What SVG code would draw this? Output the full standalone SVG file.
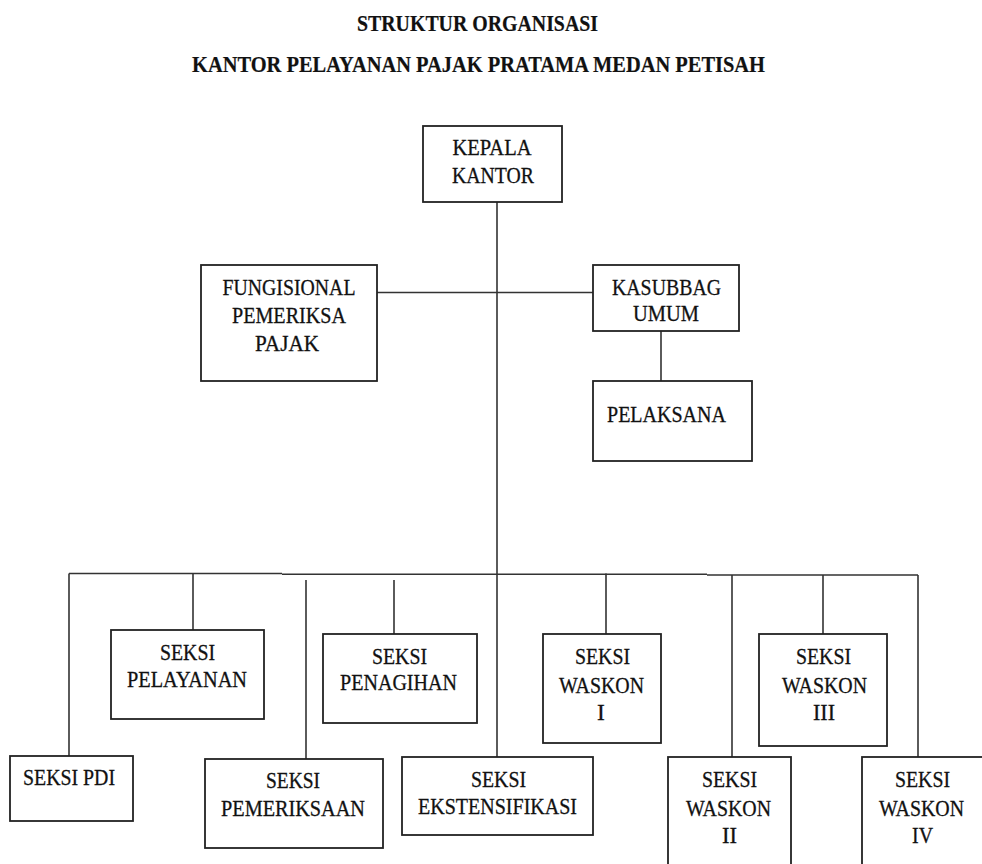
<svg xmlns="http://www.w3.org/2000/svg" width="982" height="864" viewBox="0 0 982 864">
<style>
.bg{fill:#ffffff}
.box{fill:#ffffff;stroke:#222222;stroke-width:1.8}
.ln{fill:none;stroke:#333333;stroke-width:1.6}
text{font-family:"Liberation Serif";font-size:23.5px;fill:#111111;stroke:#111111;stroke-width:0.3}
.t{font-weight:bold;font-size:23px;stroke-width:0.2}
.c{text-anchor:middle}
</style>
<rect class="bg" x="0" y="0" width="982" height="864"/>
<g id="title">
<text class="t c" x="477.5" y="30.5" textLength="241" lengthAdjust="spacingAndGlyphs">STRUKTUR ORGANISASI</text>
<text class="t c" x="478.5" y="72" textLength="573" lengthAdjust="spacingAndGlyphs">KANTOR PELAYANAN PAJAK PRATAMA MEDAN PETISAH</text>
</g>
<g id="connectors">
<line class="ln" x1="497" y1="202" x2="497" y2="757"/>
<line class="ln" x1="377" y1="292.5" x2="593" y2="292.5"/>
<line class="ln" x1="661" y1="331" x2="661" y2="381"/>
<path class="ln" d="M69 573.5 H282 M282 574.3 H707 M707 575 H918"/>
<line class="ln" x1="69" y1="573.5" x2="69" y2="756"/>
<line class="ln" x1="193" y1="573.5" x2="193" y2="630"/>
<line class="ln" x1="306" y1="580" x2="306" y2="759"/>
<line class="ln" x1="394" y1="580" x2="394" y2="634"/>
<line class="ln" x1="606" y1="573.5" x2="606" y2="634"/>
<line class="ln" x1="732" y1="575" x2="732" y2="757"/>
<line class="ln" x1="823" y1="575" x2="823" y2="634"/>
<line class="ln" x1="918" y1="575" x2="918" y2="757"/>
</g>
<g id="kepala">
<rect class="box" x="423" y="126" width="139" height="76"/>
<text class="c" x="492" y="155" textLength="79" lengthAdjust="spacingAndGlyphs">KEPALA</text>
<text class="c" x="493" y="183" textLength="82" lengthAdjust="spacingAndGlyphs">KANTOR</text>
</g>
<g id="fungsional">
<rect class="box" x="201" y="265" width="176" height="116"/>
<text class="c" x="289" y="295" textLength="133" lengthAdjust="spacingAndGlyphs">FUNGISIONAL</text>
<text class="c" x="289" y="323" textLength="114" lengthAdjust="spacingAndGlyphs">PEMERIKSA</text>
<text class="c" x="287" y="351" textLength="64" lengthAdjust="spacingAndGlyphs">PAJAK</text>
</g>
<g id="kasubbag">
<rect class="box" x="593" y="265" width="146" height="66"/>
<text class="c" x="666.5" y="295" textLength="109" lengthAdjust="spacingAndGlyphs">KASUBBAG</text>
<text class="c" x="666" y="321" textLength="66" lengthAdjust="spacingAndGlyphs">UMUM</text>
</g>
<g id="pelaksana">
<rect class="box" x="593" y="381" width="159" height="80"/>
<text x="607" y="422" textLength="119" lengthAdjust="spacingAndGlyphs">PELAKSANA</text>
</g>
<g id="seksi-pdi">
<rect class="box" x="10" y="756" width="123" height="65"/>
<text class="c" x="69" y="785" textLength="92" lengthAdjust="spacingAndGlyphs">SEKSI PDI</text>
</g>
<g id="seksi-pelayanan">
<rect class="box" x="111" y="630" width="153" height="89"/>
<text class="c" x="187.5" y="660" textLength="55" lengthAdjust="spacingAndGlyphs">SEKSI</text>
<text class="c" x="187" y="687" textLength="120" lengthAdjust="spacingAndGlyphs">PELAYANAN</text>
</g>
<g id="seksi-pemeriksaan">
<rect class="box" x="205" y="759" width="178" height="89"/>
<text class="c" x="293" y="788" textLength="54" lengthAdjust="spacingAndGlyphs">SEKSI</text>
<text class="c" x="293" y="816" textLength="144" lengthAdjust="spacingAndGlyphs">PEMERIKSAAN</text>
</g>
<g id="seksi-penagihan">
<rect class="box" x="323" y="634" width="154" height="89"/>
<text class="c" x="399.5" y="664" textLength="55" lengthAdjust="spacingAndGlyphs">SEKSI</text>
<text class="c" x="398.5" y="690" textLength="117" lengthAdjust="spacingAndGlyphs">PENAGIHAN</text>
</g>
<g id="seksi-ekstensifikasi">
<rect class="box" x="402" y="757" width="191" height="78"/>
<text class="c" x="498.5" y="787" textLength="55" lengthAdjust="spacingAndGlyphs">SEKSI</text>
<text class="c" x="497.5" y="814" textLength="159" lengthAdjust="spacingAndGlyphs">EKSTENSIFIKASI</text>
</g>
<g id="seksi-waskon-1">
<rect class="box" x="543" y="634" width="118" height="109"/>
<text class="c" x="602.5" y="664" textLength="55" lengthAdjust="spacingAndGlyphs">SEKSI</text>
<text class="c" x="601.5" y="693" textLength="85" lengthAdjust="spacingAndGlyphs">WASKON</text>
<text class="c" x="601" y="720">I</text>
</g>
<g id="seksi-waskon-2">
<rect class="box" x="668" y="757" width="123" height="113"/>
<text class="c" x="729.5" y="787" textLength="55" lengthAdjust="spacingAndGlyphs">SEKSI</text>
<text class="c" x="728.5" y="816" textLength="85" lengthAdjust="spacingAndGlyphs">WASKON</text>
<text class="c" x="729.5" y="843" textLength="15" lengthAdjust="spacingAndGlyphs">II</text>
</g>
<g id="seksi-waskon-3">
<rect class="box" x="759" y="634" width="128" height="112"/>
<text class="c" x="823.5" y="664" textLength="55" lengthAdjust="spacingAndGlyphs">SEKSI</text>
<text class="c" x="824.5" y="693" textLength="85" lengthAdjust="spacingAndGlyphs">WASKON</text>
<text class="c" x="824" y="720" textLength="22" lengthAdjust="spacingAndGlyphs">III</text>
</g>
<g id="seksi-waskon-4">
<rect class="box" x="862" y="757" width="128" height="113"/>
<text class="c" x="922.5" y="787" textLength="55" lengthAdjust="spacingAndGlyphs">SEKSI</text>
<text class="c" x="921.5" y="816" textLength="85" lengthAdjust="spacingAndGlyphs">WASKON</text>
<text class="c" x="922.5" y="843" textLength="21" lengthAdjust="spacingAndGlyphs">IV</text>
</g>
</svg>
